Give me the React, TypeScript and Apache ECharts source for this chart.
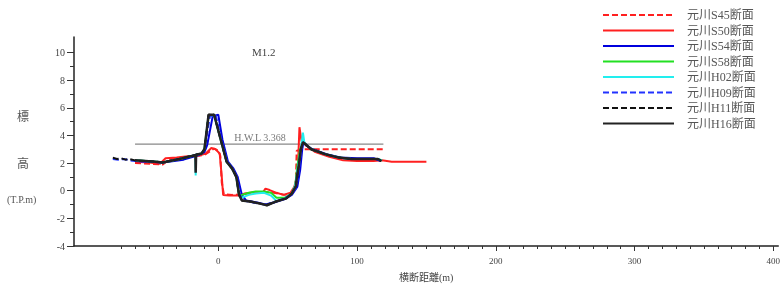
import React, { useEffect, useRef } from "react";
import * as echarts from "echarts";

const seriesNames = ["元川S45断面", "元川S50断面", "元川S54断面", "元川S58断面", "元川H02断面", "元川H09断面", "元川H11断面", "元川H16断面"];

const s45: number[][] = [[-60,2.0],[-48,1.95],[-40,1.9],[-35,2.3],[-25,2.4],[-18,2.5],[-10,2.6],[-6,2.85],[-3,3.05],[0,2.9],[1.5,2.5],[2.5,0.6],[4,-0.25],[10,-0.3],[18,-0.25],[25,-0.15],[33,-0.1],[40,-0.15],[48,-0.3],[54,-0.1],[56,0.8],[56.5,2.9],[62,3.0],[120,3.0]];
const s50: number[][] = [[-60,2.1],[-50,2.05],[-42,1.95],[-38,2.35],[-30,2.4],[-22,2.5],[-14,2.55],[-9,2.7],[-5,3.1],[-2,3.0],[1,2.7],[2.5,1.0],[3.5,-0.3],[8,-0.35],[15,-0.35],[19,-0.2],[26,-0.1],[32,-0.15],[34,0.15],[37,0.05],[42,-0.15],[47,-0.3],[52,-0.15],[55.5,0.4],[57.5,2.0],[58.5,4.6],[60,3.6],[63,3.3],[70,2.8],[80,2.45],[90,2.2],[100,2.15],[112,2.15],[118,2.2],[125,2.1],[150,2.1]];
const s54: number[][] = [[-60,2.15],[-40,2.05],[-25,2.25],[-15,2.55],[-10,2.8],[-8,3.3],[-4,5.4],[0,5.5],[3,3.7],[7,2.1],[11,1.6],[14,1.0],[17,-0.3],[20,-0.7],[28,-0.85],[34,-1.0],[40,-0.85],[48,-0.6],[53,-0.3],[57,0.3],[59,1.5],[60.5,3.0],[61.5,3.6],[63,3.3],[68,3.0],[78,2.65],[88,2.4],[100,2.35],[112,2.35],[117,2.15]];
const s58: number[][] = [[-60,2.2],[-45,2.1],[-40,2.05],[-28,2.3],[-20,2.5],[-16,2.6],[-12,2.7],[-10,3.0],[-7,5.4],[-3,5.5],[2,3.6],[6,2.1],[10,1.6],[13,1.0],[15,-0.3],[17,-0.3],[22,-0.15],[27,-0.05],[33,-0.05],[38,-0.15],[42,-0.5],[48,-0.5],[53,-0.2],[55.5,0.4],[57,1.8],[59,3.0],[61,3.5],[63,3.35],[67,3.0],[77,2.65],[87,2.4],[96,2.3],[106,2.3],[115,2.3],[118,2.2]];
const h02: number[][] = [[-60,2.2],[-45,2.1],[-40,2.05],[-28,2.3],[-20,2.5],[-16.5,2.55],[-16.3,1.1],[-16,2.6],[-12,2.7],[-10,3.0],[-7,5.4],[-3,5.5],[2,3.6],[6,2.1],[10,1.6],[13,1.0],[15,-0.3],[17,-0.5],[22,-0.3],[27,-0.2],[33,-0.15],[38,-0.35],[42,-0.75],[48,-0.55],[53,-0.2],[55.5,0.4],[57.5,1.8],[59.5,3.0],[61,4.2],[62,3.5],[67,3.0],[77,2.65],[87,2.4],[96,2.3],[106,2.3],[115,2.3],[118,2.2]];
const h09: number[][] = [[-76,2.3],[-72,2.25],[-68,2.3],[-64,2.2],[-60,2.15],[-45,2.1],[-40,2.05],[-28,2.3],[-20,2.5],[-16,2.6],[-12,2.7],[-10,3.0],[-6,5.4],[-2,5.5],[2.5,3.6],[6.5,2.1],[10.5,1.6],[13.5,1.0],[15.5,-0.3],[18,-0.7],[25,-0.85],[33,-1.0],[40,-0.85],[48,-0.55],[53,-0.25],[56.5,0.35],[58.5,1.8],[60,3.0],[61.5,3.5],[63,3.35],[67,3.0],[77,2.65],[87,2.4],[96,2.3],[106,2.3],[115,2.3],[117.5,2.15]];
const h11: number[][] = [[-76,2.4],[-73,2.3],[-70,2.35],[-67,2.25],[-64,2.3],[-60,2.2],[-45,2.1],[-40,2.05],[-28,2.3],[-20,2.5],[-16,2.6],[-12,2.7],[-10,3.0],[-7,5.5],[-3,5.5],[2,3.6],[6,2.1],[10,1.6],[13,1.0],[15,-0.3],[17,-0.7],[24,-0.8],[31,-0.95],[35,-1.05],[41,-0.8],[49,-0.55],[53,-0.2],[56,0.35],[58,1.8],[59.5,3.0],[61,3.5],[62.5,3.4],[67,3.0],[77,2.65],[87,2.4],[96,2.3],[106,2.3],[115,2.3],[117.5,2.15]];
const h16: number[][] = [[-60,2.2],[-45,2.1],[-40,2.05],[-28,2.3],[-20,2.5],[-16.5,2.55],[-16.3,1.3],[-16,2.6],[-12,2.7],[-10,3.0],[-7,5.5],[-3,5.5],[2,3.6],[6,2.1],[10,1.6],[13,1.0],[15,-0.3],[17,-0.7],[24,-0.8],[31,-0.95],[35,-1.05],[41,-0.8],[49,-0.55],[53,-0.2],[56,0.35],[56.5,0.9],[58,1.8],[59.5,3.0],[61,3.5],[62.5,3.4],[67,3.0],[77,2.65],[87,2.4],[96,2.3],[106,2.3],[115,2.3],[117.5,2.15]];

const hwlValue = 3.368;
const hwlLine: number[][] = [[-60, hwlValue], [119, hwlValue]];
const hwlLabelX = 30;

const xMinorTicks: number[] = [-70,-60,-50,-40,-30,-20,-10,0,10,20,30,40,50,60,70,80,90,100,110,120,130,140,150,160,170,180,190,200,210,220,230,240,250,260,270,280,290,300,310,320,330,340,350,360,370,380,390,400];
const xMajorTicks: number[] = [0, 100, 200, 300, 400];
const yMinorTicks: number[] = [-4,-3,-2,-1,0,1,2,3,4,5,6,7,8,9,10];
const yMajorTicks: number[] = [-4, -2, 0, 2, 4, 6, 8, 10];

const seriesData = [s45, s50, s54, s58, h02, h09, h11, h16];
const colors = ["#ff2020", "#ff2020", "#0000dd", "#22e022", "#22eeee", "#2233ff", "#111111", "#222222"];
const dashed = [true, false, false, false, false, true, true, false];

const SERIF = "'Liberation Serif', 'DejaVu Serif', 'Noto Sans CJK JP', serif";

export default function App() {
  const ref = useRef<HTMLDivElement>(null);
  useEffect(() => {
    if (!ref.current) return;
    const chart = echarts.init(ref.current, undefined, { renderer: "svg" });
    const xMin = -104, xMax = 403.6, yMin = -4, yMax = 11.13;
    const lineSeries = seriesNames.map((name, i) => ({
      name,
      type: "line",
      data: seriesData[i],
      symbol: "none",
      xAxisIndex: 0,
      yAxisIndex: 0,
      lineStyle: { color: colors[i], width: i === 7 ? 2.5 : 2, type: dashed[i] ? [6, 3] : "solid" },
      itemStyle: { color: colors[i] },
      z: 3 + i,
    }));
    chart.setOption({
      animation: false,
      grid: { left: 74, top: 37, width: 709, height: 211, containLabel: false },
      legend: {
        orient: "vertical",
        left: 597,
        top: 4,
        itemWidth: 71,
        itemHeight: 10,
        itemGap: 3.5,
        data: seriesNames,
        itemStyle: { opacity: 0 },
        textStyle: { fontFamily: SERIF, fontSize: 12, color: "#555", padding: [0, 0, 0, 8] },
        selectedMode: false,
      },
      xAxis: [
        {
          type: "value", min: xMin, max: xMax,
          name: "横断距離(m)", nameLocation: "middle", nameGap: 26,
          nameTextStyle: { fontFamily: SERIF, fontSize: 10, color: "#444" },
          axisLine: { show: true, onZero: false, lineStyle: { color: "#222", width: 1.5 } },
          axisTick: { show: true, customValues: xMinorTicks, length: 3, lineStyle: { color: "#333" } },
          axisLabel: { show: true, customValues: xMajorTicks, margin: 10, fontFamily: SERIF, fontSize: 9, color: "#444" },
          splitLine: { show: false },
        },
        {
          type: "value", min: xMin, max: xMax, position: "bottom",
          axisLine: { show: false, onZero: false },
          axisTick: { show: true, customValues: xMajorTicks, length: 5, lineStyle: { color: "#333" } },
          axisLabel: { show: false },
          splitLine: { show: false },
        },
      ],
      yAxis: [
        {
          type: "value", min: yMin, max: yMax,
          axisLine: { show: true, onZero: false, lineStyle: { color: "#222", width: 1.5 } },
          axisTick: { show: true, customValues: yMinorTicks, length: 4, lineStyle: { color: "#333" } },
          axisLabel: { show: true, customValues: yMajorTicks, margin: 9, fontFamily: SERIF, fontSize: 10, color: "#444" },
          splitLine: { show: false },
        },
        {
          type: "value", min: yMin, max: yMax, position: "left",
          axisLine: { show: false, onZero: false },
          axisTick: { show: true, customValues: yMajorTicks, length: 7, lineStyle: { color: "#333" } },
          axisLabel: { show: false },
          splitLine: { show: false },
        },
      ],
      series: [
        {
          name: "hwl", type: "line", data: hwlLine, symbol: "none",
          lineStyle: { color: "#888", width: 1.2 }, z: 2, silent: true,
        },
        {
          name: "hwlLabel", type: "scatter", data: [[hwlLabelX, hwlValue]], symbolSize: 0,
          label: { show: true, position: "top", distance: 2, formatter: "H.W.L 3.368", fontFamily: SERIF, fontSize: 10, color: "#555" },
          z: 2, silent: true,
        },
        ...lineSeries,
      ],
      graphic: [
        { type: "text", left: 252, top: 46, style: { text: "M1.2", font: `11px ${SERIF}`, fill: "#444" } },
        { type: "text", left: 17, top: 111, style: { text: "標", font: `12px ${SERIF}`, fill: "#555" } },
        { type: "text", left: 17, top: 158, style: { text: "高", font: `12px ${SERIF}`, fill: "#555" } },
        { type: "text", left: 7, top: 194, style: { text: "(T.P.m)", font: `10px ${SERIF}`, fill: "#555" } },
      ],
    });
    return () => chart.dispose();
  }, []);
  return <div ref={ref} style={{ position: "fixed", left: 0, top: 0, width: 783, height: 287 }} />;
}
